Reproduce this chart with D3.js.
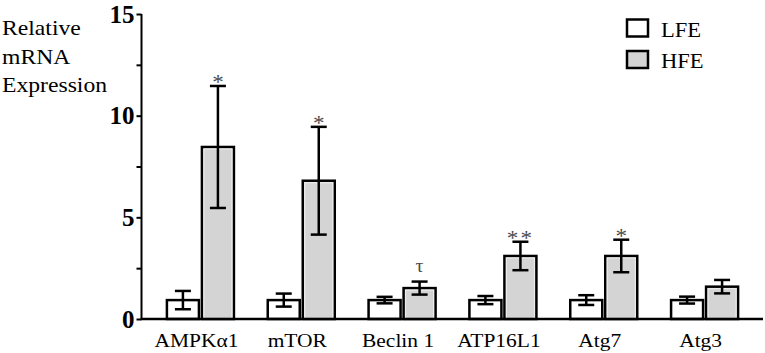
<!DOCTYPE html>
<html>
<head>
<meta charset="utf-8">
<script src="https://cdn.jsdelivr.net/npm/d3@7"></script>
<style>
  body { margin: 0; background: #fff; }
</style>
</head>
<body>
<svg id="chart" width="765" height="353" font-family="'Liberation Serif', 'DejaVu Serif', serif"></svg>
<script>
// Data
const genes = ['AMPK\u03b11', 'mTOR', 'Beclin 1', 'ATP16L1', 'Atg7', 'Atg3'];
const groups = ['LFE', 'HFE'];
const lfeMean = [0.93, 0.93, 0.93, 0.93, 0.93, 0.93];
const lfeErr = [0.45, 0.32, 0.16, 0.2, 0.24, 0.17];
const hfeMean = [8.46, 6.8, 1.52, 3.1, 3.1, 1.59];
const hfeErr = [3.0, 2.65, 0.32, 0.7, 0.8, 0.33];
const marks = ['*', '*', '\u03c4', '**', '*', ''];
const yTicks = [0, 5, 10, 15];
const yMinor = [2.5, 7.5, 12.5];

const svg = d3.select('#chart');
const serif = "'Liberation Serif', 'DejaVu Serif', serif";
const sx = 1.1; // source figure text is slightly stretched horizontally

// Scales
const y = d3.scaleLinear().domain([0, 15]).range([319, 14]);
const x = d3.scaleBand().domain(genes).range([150, 755]);
const xSub = d3.scaleBand().domain(groups).range([0, x.bandwidth()])
  .paddingInner(0.0857).paddingOuter(0.483);

const data = [];
genes.forEach((g, i) => {
    data.push({ gene: g, group: 'LFE', mean: lfeMean[i], err: lfeErr[i], mark: '' });
    data.push({ gene: g, group: 'HFE', mean: hfeMean[i], err: hfeErr[i], mark: marks[i] });
});

const fills = { LFE: '#ffffff', HFE: '#d4d4d4' };
const axisX = 141.5;

// Bars
const bars = svg.append('g');
bars.selectAll('rect.bar')
  .data(data)
  .join('rect')
  .attr('class', 'bar')
  .attr('x', (d) => x(d.gene) + xSub(d.group))
  .attr('y', (d) => y(d.mean))
  .attr('width', xSub.bandwidth())
  .attr('height', (d) => y(0) - y(d.mean))
  .attr('fill', (d) => fills[d.group])
  .attr('stroke', '#000')
  .attr('stroke-width', 2.5);

// thin light inner edge on the grey bars
bars.selectAll('rect.inner')
  .data(data.filter((d) => d.group === 'HFE'))
  .join('rect')
  .attr('class', 'inner')
  .attr('x', (d) => x(d.gene) + xSub(d.group) + 2)
  .attr('y', (d) => y(d.mean) + 2)
  .attr('width', xSub.bandwidth() - 4)
  .attr('height', (d) => Math.max(0, y(0) - y(d.mean) - 3))
  .attr('fill', 'none')
  .attr('stroke', '#eeeeee')
  .attr('stroke-width', 1);

// Error bars
const capW = 16;
const err = svg.append('g').attr('stroke', '#000').attr('stroke-width', 2.5);
data.forEach((d) => {
    const cx = x(d.gene) + xSub(d.group) + xSub.bandwidth() / 2;
    const top = y(d.mean + d.err);
    const bot = y(d.mean - d.err);
    err.append('line').attr('x1', cx).attr('x2', cx).attr('y1', top).attr('y2', bot);
    err.append('line').attr('x1', cx - capW / 2).attr('x2', cx + capW / 2).attr('y1', top).attr('y2', top);
    err.append('line').attr('x1', cx - capW / 2).attr('x2', cx + capW / 2).attr('y1', bot).attr('y2', bot);
});

// Significance marks
svg.append('g').selectAll('text')
  .data(data.filter((d) => d.mark))
  .join('text')
  .attr('transform', (d) => `translate(${x(d.gene) + xSub(d.group) + xSub.bandwidth() / 2},${y(d.mean + d.err) - 4}) scale(${sx},1)`)
  .attr('text-anchor', 'middle')
  .attr('font-size', (d) => (d.mark === '\u03c4' ? 18 : 21))
  .attr('letter-spacing', (d) => (d.mark === '**' ? 2 : 0))
  .attr('fill', '#4a4a4a')
  .attr('dy', (d) => (d.mark === '\u03c4' ? '-0.3em' : '0.35em'))
  .text((d) => d.mark);

// Y axis
const yAxis = d3.axisLeft(y).tickValues(yTicks.concat(yMinor).sort((a, b) => a - b))
  .tickSize(5).tickPadding(2)
  .tickFormat((d) => (yTicks.includes(d) ? d : ''));
const yg = svg.append('g')
  .attr('transform', `translate(${axisX},0)`)
  .call(yAxis)
  .attr('font-family', serif);
yg.select('.domain').remove();
yg.selectAll('.tick line').attr('stroke', '#000').attr('stroke-width', 2);
yg.selectAll('.tick text')
  .attr('font-size', 25)
  .attr('font-weight', 'bold')
  .attr('fill', '#000');
svg.append('line')
  .attr('x1', axisX).attr('x2', axisX)
  .attr('y1', y(15)).attr('y2', y(0))
  .attr('stroke', '#000').attr('stroke-width', 2);

// X baseline
svg.append('line')
  .attr('x1', axisX - 1).attr('x2', 763)
  .attr('y1', y(0)).attr('y2', y(0))
  .attr('stroke', '#000').attr('stroke-width', 2.5);

// Category labels
svg.append('g').selectAll('text')
  .data(genes)
  .join('text')
  .attr('transform', (d) => `translate(${x(d) + x.bandwidth() / 2 - 4},346.5) scale(${sx},1)`)
  .attr('text-anchor', 'middle')
  .attr('font-size', 19.5)
  .attr('fill', '#000')
  .text((d) => d);

// Y title
const titleLines = ['Relative', 'mRNA', 'Expression'];
svg.append('g').selectAll('text')
  .data(titleLines)
  .join('text')
  .attr('transform', (d, i) => `translate(2,${35 + i * 28.5}) scale(${sx},1)`)
  .attr('font-size', 21.5)
  .attr('fill', '#000')
  .text((d) => d);

// Legend
const legend = svg.append('g');
groups.forEach((g, i) => {
    const ly = 19.5 + i * 31.5;
    legend.append('rect')
      .attr('x', 627).attr('y', ly)
      .attr('width', 21).attr('height', 17)
      .attr('fill', fills[g])
      .attr('stroke', '#000').attr('stroke-width', 2.5);
    legend.append('text')
      .attr('transform', `translate(661,${ly + 17}) scale(${sx},1)`)
      .attr('font-size', 20.5)
      .attr('fill', '#000')
      .text(g);
});
</script>
</body>
</html>
